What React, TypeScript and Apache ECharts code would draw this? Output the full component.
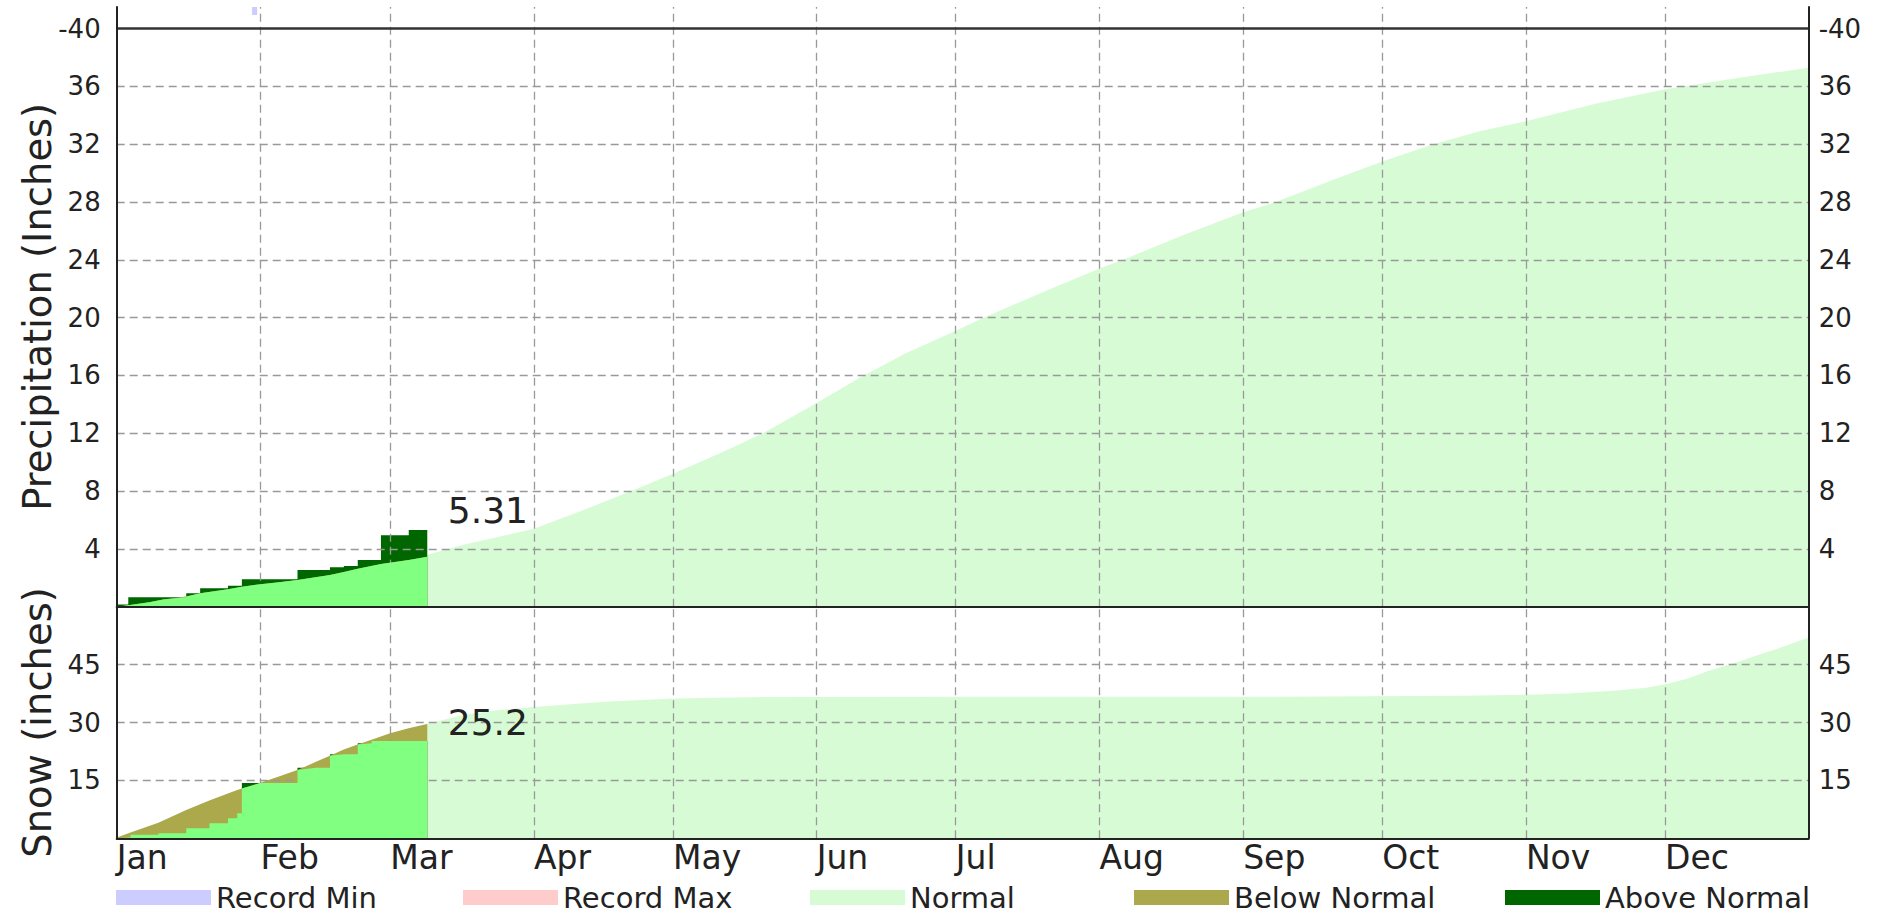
import React, { useEffect, useRef } from 'react';
import * as echarts from 'echarts';

// ---------- categories / ticks ----------
const monthNames = ['Jan', 'Feb', 'Mar', 'Apr', 'May', 'Jun', 'Jul', 'Aug', 'Sep', 'Oct', 'Nov', 'Dec'];
const monthStarts = [0, 31, 59, 90, 120, 151, 181, 212, 243, 273, 304, 334];
const precipTicks = [4, 8, 12, 16, 20, 24, 28, 32, 36];
const snowTicks = [15, 30, 45];

// ---------- precipitation: normal (whole year) ----------
const precipNormalDays = [0, 3, 7, 10, 14, 18, 24, 27, 31, 35, 39, 46, 52, 57, 63, 67, 75, 82, 90, 100, 111, 120, 130, 140, 151, 160, 170, 181, 187, 200, 212, 217, 230, 243, 250, 262, 273, 284, 294, 304, 319, 334, 350, 365];
const precipNormalVals = [0, 0.13, 0.3, 0.5, 0.65, 0.93, 1.2, 1.38, 1.56, 1.7, 1.9, 2.2, 2.62, 2.95, 3.23, 3.6, 4.3, 4.8, 5.4, 6.6, 8.0, 9.2, 10.6, 12.1, 14.1, 15.8, 17.5, 19.1, 20.0, 21.8, 23.4, 24.0, 25.7, 27.3, 28.0, 29.5, 30.8, 32.0, 32.9, 33.6, 34.8, 35.8, 36.6, 37.3];

// ---------- precipitation: observed period ----------
const precipObsDays = [0, 2.5, 2.5, 7, 10, 15, 15, 18, 18, 24, 24, 27, 27, 31, 35, 39, 39, 46, 46, 49, 49, 52, 52, 57, 57, 63, 63, 67];
const precipObs = [0.15, 0.15, 0.65, 0.65, 0.65, 0.65, 0.93, 0.93, 1.27, 1.27, 1.45, 1.45, 1.9, 1.9, 1.9, 1.9, 2.54, 2.54, 2.73, 2.73, 2.82, 2.82, 3.23, 3.23, 4.95, 4.95, 5.31, 5.31];
const precipObsNormal = [0, 0.1, 0.1, 0.3, 0.5, 0.7, 0.7, 0.93, 0.93, 1.2, 1.2, 1.38, 1.38, 1.56, 1.7, 1.85, 1.85, 2.19, 2.19, 2.4, 2.4, 2.62, 2.62, 2.95, 2.95, 3.23, 3.23, 3.45];

// ---------- record min blip (top panel) ----------
const recordMinDays = [29.2, 30.3];
const recordMinRange = [40.95, 41.5];

// ---------- snow: normal (whole year) ----------
const snowNormalDays = [0, 3, 9, 15, 20, 24, 27, 31, 35, 39, 43, 46, 49, 52, 55, 59, 63, 67, 75, 82, 90, 105, 120, 140, 180, 250, 290, 304, 313, 323, 330, 334, 339, 343, 347, 351, 355, 359, 365];
const snowNormalVals = [0, 1.5, 4.0, 7.3, 9.8, 11.6, 12.9, 14.4, 16.0, 17.7, 19.8, 21.4, 23.0, 24.3, 25.5, 27.2, 28.5, 29.7, 32.0, 33.2, 34.0, 35.4, 36.2, 36.6, 36.7, 36.7, 36.9, 37.2, 37.5, 38.2, 39.0, 39.9, 41.4, 43.2, 44.7, 46.2, 47.9, 49.4, 52.0];

// ---------- snow: observed period ----------
const snowObsDays = [0, 3, 3, 9, 9, 15, 15, 20, 20, 24, 24, 26, 26, 27, 27, 31, 35, 39, 39, 43, 46, 46, 49, 52, 52, 55, 55, 59, 63, 67];
const snowObs = [0, 0.2, 0.9, 0.9, 1.3, 1.3, 2.6, 2.6, 3.9, 3.9, 5.2, 5.2, 6.5, 6.5, 14.3, 14.3, 14.3, 14.3, 18.3, 18.3, 18.3, 21.8, 21.8, 21.8, 24.6, 24.6, 25.2, 25.2, 25.2, 25.2];
const snowObsNormal = [0.2, 1.5, 1.5, 4.0, 4.0, 7.3, 7.3, 9.8, 9.8, 11.6, 11.6, 12.5, 12.5, 12.9, 12.9, 14.4, 16.0, 17.7, 17.7, 19.8, 21.4, 21.4, 23.0, 24.3, 24.3, 25.5, 25.5, 27.2, 28.5, 29.6];

// ---------- styles ----------
const FONT = 'DejaVu Sans';
const C_NORMAL = '#d7fcd5';
const C_OBS = '#80ff80';
const C_BELOW = '#aca84c';
const C_ABOVE = '#006600';
const C_RMIN = '#ccccff';
const C_RMAX = '#ffcccc';
const C_AXIS = '#222';
const C_GRID = '#999';

const zip = (xs: number[], ys: number[]) => xs.map((x, i) => [x, ys[i]]);

// Observed period is drawn as three overlapping areas from 0:
// dark green up to observed, olive up to normal, bright green up to the smaller of the two.
function obsLayers(days: number[], obs: number[], norm: number[]) {
  return {
    obsTop: zip(days, obs),
    normTop: zip(days, norm),
    minTop: days.map((d, i) => [d, Math.min(obs[i], norm[i])]),
  };
}

function areaSeries(name: string, data: number[][], color: string, gi: number, yi: number, z: number) {
  return {
    name,
    type: 'line',
    xAxisIndex: gi,
    yAxisIndex: yi,
    data,
    symbol: 'none',
    showSymbol: false,
    color,
    lineStyle: { width: 0, color },
    areaStyle: { color, opacity: 1 },
    z,
    silent: true,
    clip: true,
  };
}

function gridSeries(gi: number, yi: number, hTicks: number[], extra: any[], label: { day: number; val: number; text: string }) {
  return {
    name: 'grid' + gi,
    type: 'line',
    xAxisIndex: gi,
    yAxisIndex: yi,
    data: [],
    symbol: 'none',
    z: 10,
    silent: true,
    markLine: {
      silent: true,
      symbol: ['none', 'none'],
      label: { show: false },
      lineStyle: { color: C_GRID, type: [8, 5], width: 1.3 },
      data: [
        ...monthStarts.slice(1).map((d) => ({ xAxis: d })),
        ...hTicks.map((v) => ({ yAxis: v })),
        ...extra,
      ],
    },
    markPoint: {
      silent: true,
      symbol: 'rect',
      symbolSize: 1,
      itemStyle: { color: 'rgba(0,0,0,0)' },
      label: {
        show: true,
        position: 'right',
        distance: 0,
        offset: [20, -19],
        formatter: label.text,
        fontSize: 36,
        fontFamily: FONT,
        color: C_AXIS,
      },
      data: [{ coord: [label.day, label.val] }],
    },
  };
}

const precipLayers = obsLayers(precipObsDays, precipObs, precipObsNormal);
const snowLayers = obsLayers(snowObsDays, snowObs, snowObsNormal);

const GL = 116.7;
const GR = 71.3;

const yAxisCommon = {
  type: 'value',
  z: 20,
  axisLine: { show: true, lineStyle: { color: C_AXIS, width: 2 } },
  axisTick: { show: false },
  splitLine: { show: false },
  nameMoveOverlap: false,
  nameTextStyle: { fontSize: 38.5, fontFamily: FONT, color: C_AXIS },
};

const precipFmt = (v: number) => (v === 40 ? '-40' : v > 0 && v < 40 ? String(v) : '');
const snowFmt = (v: number) => (v > 0 && v < 60 ? String(v) : '');

const legendItems = [
  { name: 'Record Min', color: C_RMIN, left: 116 },
  { name: 'Record Max', color: C_RMAX, left: 463 },
  { name: 'Normal', color: C_NORMAL, left: 810 },
  { name: 'Below Normal', color: C_BELOW, left: 1134 },
  { name: 'Above Normal', color: C_ABOVE, left: 1505 },
];

const tickLabel = (fmt: (v: number) => string, margin: number) => ({
  formatter: fmt,
  fontSize: 26,
  fontFamily: FONT,
  color: C_AXIS,
  margin,
  showMaxLabel: false,
  showMinLabel: false,
});

const option: any = {
  animation: false,
  backgroundColor: '#ffffff',
  textStyle: { fontFamily: FONT },
  grid: [
    { left: GL, right: GR, top: 7, height: 599.7 },
    { left: GL, right: GR, top: 606.7, height: 231.6 },
  ],
  legend: legendItems.map((it) => ({
    data: [{ name: it.name, itemStyle: { color: it.color } }],
    left: it.left,
    top: 883,
    icon: 'rect',
    itemWidth: 95,
    itemHeight: 15,
    selectedMode: false,
    padding: 0,
    textStyle: { fontSize: 29, lineHeight: 24, fontFamily: FONT, color: C_AXIS },
  })),
  xAxis: [
    {
      type: 'value',
      gridIndex: 0,
      min: 0,
      max: 365,
      z: 20,
      axisLine: { show: true, lineStyle: { color: C_AXIS, width: 2 } },
      axisTick: { show: false },
      axisLabel: { show: false },
      splitLine: { show: false },
    },
    {
      type: 'value',
      gridIndex: 1,
      min: 0,
      max: 365,
      z: 20,
      axisLine: { show: true, lineStyle: { color: C_AXIS, width: 2 } },
      axisTick: { show: false },
      splitLine: { show: false },
      axisLabel: {
        show: true,
        customValues: monthStarts,
        formatter: (v: number) => {
          const i = monthStarts.indexOf(Math.round(v));
          return i >= 0 ? monthNames[i] : '';
        },
        align: 'left',
        margin: 3,
        fontSize: 33,
        fontFamily: FONT,
        color: C_AXIS,
        showMinLabel: true,
        showMaxLabel: true,
        hideOverlap: false,
      },
    },
  ],
  yAxis: [
    {
      ...yAxisCommon,
      gridIndex: 0,
      position: 'left',
      min: 0,
      max: 41.5,
      interval: 4,
      name: 'Precipitation (Inches)',
      nameLocation: 'middle',
      nameGap: 60,
      axisLabel: tickLabel(precipFmt, 16),
    },
    {
      ...yAxisCommon,
      gridIndex: 0,
      position: 'right',
      min: 0,
      max: 41.5,
      interval: 4,
      axisLabel: tickLabel(precipFmt, 10),
    },
    {
      ...yAxisCommon,
      gridIndex: 1,
      position: 'left',
      min: 0,
      max: 60,
      interval: 15,
      name: 'Snow (inches)',
      nameLocation: 'middle',
      nameGap: 60,
      axisLabel: tickLabel(snowFmt, 16),
    },
    {
      ...yAxisCommon,
      gridIndex: 1,
      position: 'right',
      min: 0,
      max: 60,
      interval: 15,
      axisLabel: tickLabel(snowFmt, 10),
    },
  ],
  series: [
    // top panel
    areaSeries('Normal', zip(precipNormalDays, precipNormalVals), C_NORMAL, 0, 0, 1),
    areaSeries('Above Normal', precipLayers.obsTop, C_ABOVE, 0, 0, 3),
    areaSeries('Below Normal', precipLayers.normTop, C_BELOW, 0, 0, 4),
    areaSeries('Observed', precipLayers.minTop, C_OBS, 0, 0, 5),
    {
      name: 'Record Min',
      type: 'line',
      xAxisIndex: 0,
      yAxisIndex: 0,
      data: [],
      color: C_RMIN,
      symbol: 'none',
      z: 6,
      markArea: {
        silent: true,
        itemStyle: { color: C_RMIN, opacity: 1 },
        data: [[{ coord: [recordMinDays[0], recordMinRange[0]] }, { coord: [recordMinDays[1], recordMinRange[1]] }]],
      },
    },
    {
      name: 'Record Max',
      type: 'line',
      xAxisIndex: 0,
      yAxisIndex: 0,
      data: [],
      color: C_RMAX,
      symbol: 'none',
    },
    gridSeries(0, 0, precipTicks, [{ yAxis: 40, lineStyle: { type: 'solid', color: '#333', width: 2.6 } }], {
      day: precipObsDays[precipObsDays.length - 1],
      val: precipObs[precipObs.length - 1],
      text: precipObs[precipObs.length - 1].toFixed(2),
    }),
    // snow panel
    areaSeries('Normal', zip(snowNormalDays, snowNormalVals), C_NORMAL, 1, 2, 1),
    areaSeries('Above Normal', snowLayers.obsTop, C_ABOVE, 1, 2, 3),
    areaSeries('Below Normal', snowLayers.normTop, C_BELOW, 1, 2, 4),
    areaSeries('Observed', snowLayers.minTop, C_OBS, 1, 2, 5),
    gridSeries(1, 2, snowTicks, [], {
      day: snowObsDays[snowObsDays.length - 1],
      val: snowObs[snowObs.length - 1],
      text: snowObs[snowObs.length - 1].toFixed(1),
    }),
  ],
};

export default function App() {
  const ref = useRef<HTMLDivElement>(null);
  useEffect(() => {
    if (!ref.current) return;
    const chart = echarts.init(ref.current, null, { renderer: 'svg' });
    chart.setOption(option);
    return () => chart.dispose();
  }, []);
  return (
    <div
      ref={ref}
      style={{ position: 'absolute', left: 0, top: 0, width: 1880, height: 913, background: '#fff' }}
    />
  );
}
